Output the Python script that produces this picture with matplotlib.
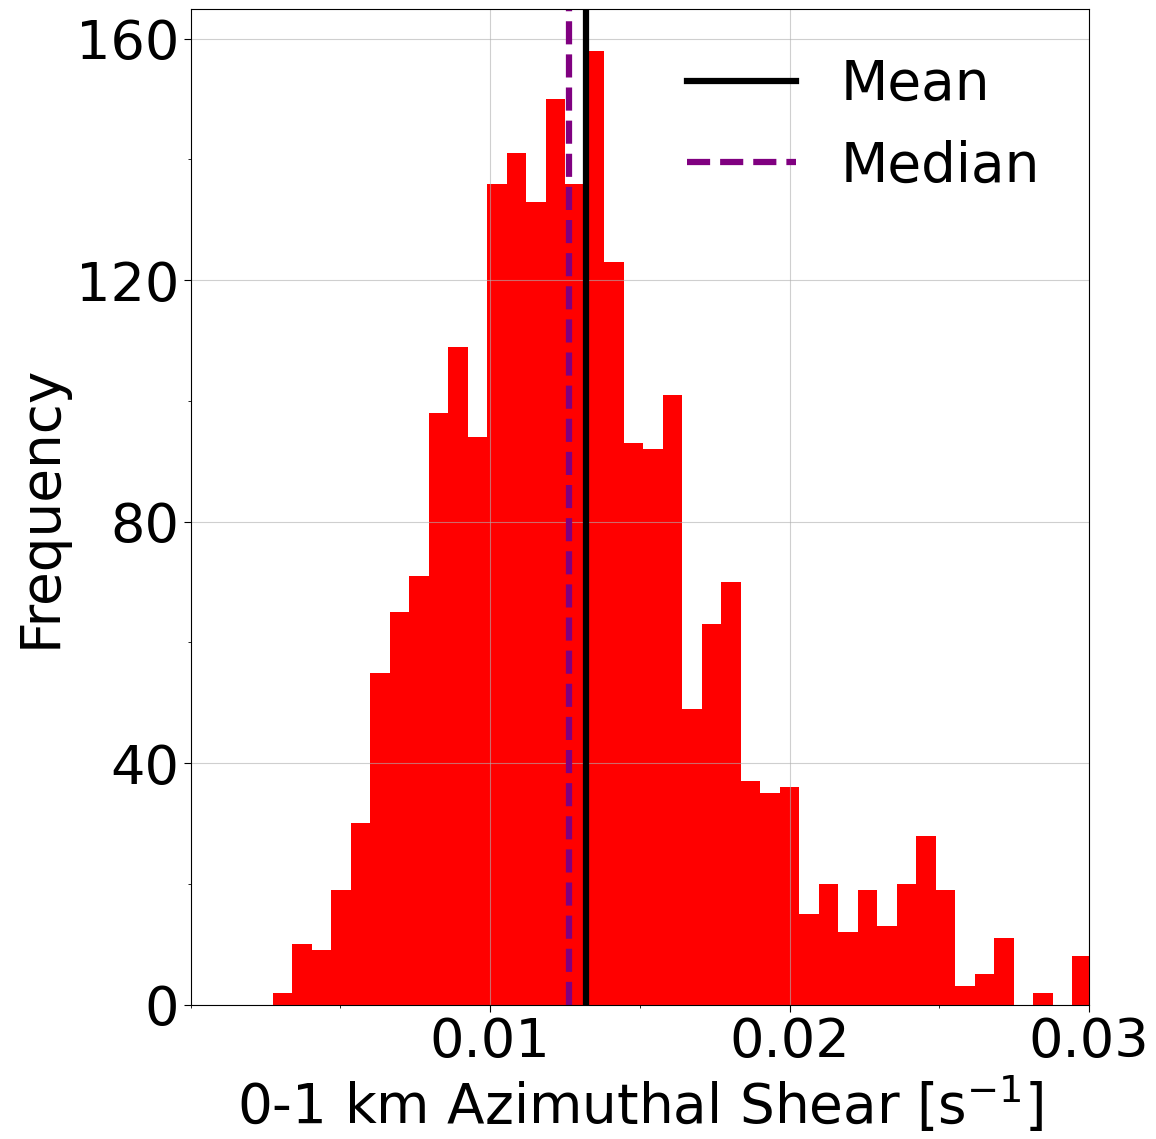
import numpy as np
import matplotlib
matplotlib.use("Agg")
import matplotlib.pyplot as plt
from matplotlib.ticker import MultipleLocator, FixedLocator

# histogram counts (bin width ~0.00065 s^-1)
bin_start = 0.002745
bin_width = 0.000651
counts = [2, 10, 9, 19, 30, 55, 65, 71, 98, 109,
          94, 136, 141, 133, 150, 136, 158, 123, 93, 92,
          101, 49, 63, 70, 37, 35, 36, 15, 20, 12,
          19, 13, 20, 28, 19, 3, 5, 11, 0, 2,
          0, 8]
mean_val = 0.013212
median_val = 0.012632

edges = bin_start + bin_width * np.arange(len(counts) + 1)

fig = plt.figure(figsize=(11.56, 11.39), dpi=100)
ax = fig.add_axes([0.165, 0.118, 0.777, 0.8745])

ax.hist(edges[:-1], bins=edges, weights=counts, color="red")
ax.axvline(mean_val, color="black", lw=4.5, label="Mean")
ax.axvline(median_val, color="purple", lw=4.5, ls="--", label="Median")

ax.set_xlim(0, 0.03)
ax.set_ylim(0, 165)
ax.xaxis.set_major_locator(FixedLocator([0.01, 0.02, 0.03]))
ax.xaxis.set_minor_locator(MultipleLocator(0.005))
ax.yaxis.set_major_locator(MultipleLocator(40))
ax.yaxis.set_minor_locator(MultipleLocator(20))
ax.tick_params(which="major", labelsize=39, length=5)
ax.tick_params(which="minor", length=2.5)
ax.grid(True, which="major", alpha=0.6)

ax.set_xlabel(r"0-1 km Azimuthal Shear [s$^{-1}$]", fontsize=39.5)
ax.set_ylabel("Frequency", fontsize=39.5, labelpad=6)
ax.legend(loc="upper right", fontsize=39.5, frameon=False)

fig.savefig("out.png", dpi=100)
